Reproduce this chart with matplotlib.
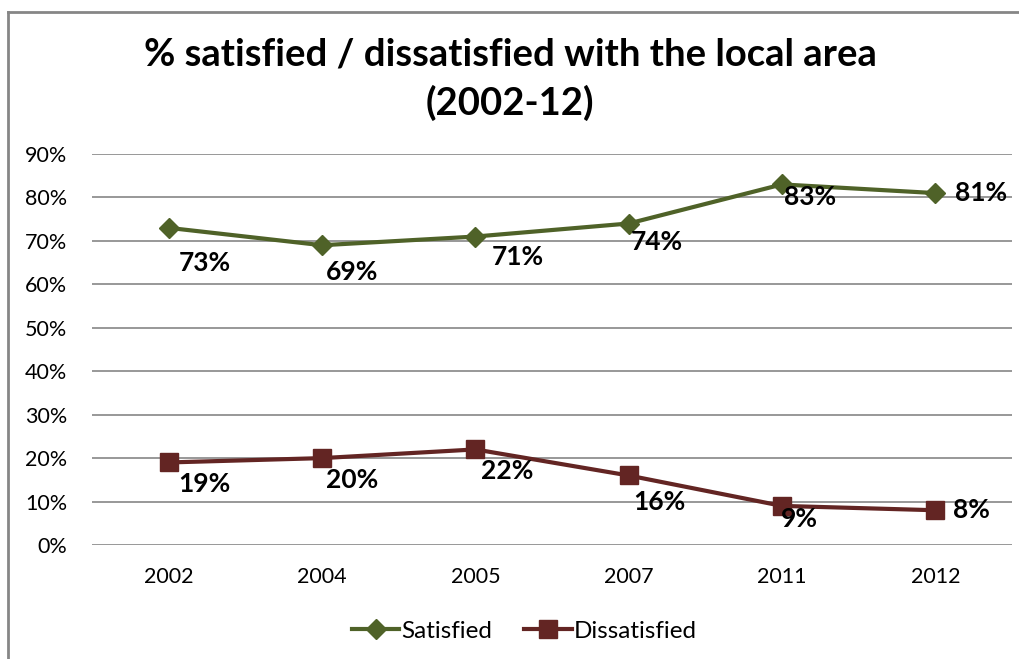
import matplotlib.pyplot as plt
from matplotlib.lines import Line2D

plt.rcParams['font.family'] = ['Lato', 'DejaVu Sans']

years = ["2002", "2004", "2005", "2007", "2011", "2012"]
satisfied = [73, 69, 71, 74, 83, 81]
dissatisfied = [19, 20, 22, 16, 9, 8]

# label offsets in pixels (dx, dy) relative to each point
sat_offsets = [(36, -35), (30, -27), (42, -20), (28, -18), (28, -13), (46, 0)]
dis_offsets = [(36, -22), (30, -22), (32, -22), (31, -27), (17, -13), (36, 0)]

green = "#4F6228"
red = "#632523"
grid_col = "#868686"

fig = plt.figure(figsize=(10.2, 6.59), dpi=100)
ax = fig.add_axes([92 / 1020, 1 - 545 / 659, 920 / 1020, 391 / 659])

x = list(range(len(years)))
ax.plot(x, satisfied, color=green, lw=3, marker="D", markersize=10,
        label="Satisfied", zorder=3)
ax.plot(x, dissatisfied, color=red, lw=3, marker="s", markersize=12.5,
        label="Dissatisfied", zorder=3)

for xi, v, off in zip(x, satisfied, sat_offsets):
    ax.annotate(f"{v}%", (xi, v), xytext=off, textcoords="offset pixels",
                ha="center", va="center", fontsize=19, fontweight="bold")
for xi, v, off in zip(x, dissatisfied, dis_offsets):
    ax.annotate(f"{v}%", (xi, v), xytext=off, textcoords="offset pixels",
                ha="center", va="center", fontsize=19, fontweight="bold")

ax.set_xlim(-0.5, len(years) - 0.5)
ax.set_ylim(0, 90)
ax.set_yticks(range(0, 91, 10))
ax.set_yticklabels([f"{t}%" for t in range(0, 91, 10)])
ax.set_xticks(x)
ax.set_xticklabels(years)
ax.tick_params(axis="both", labelsize=15.5, length=0, colors="black")
ax.tick_params(axis="y", pad=18)
ax.tick_params(axis="x", pad=16)
ax.yaxis.grid(True, color=grid_col, lw=1.2)
ax.set_axisbelow(True)
for s in ax.spines.values():
    s.set_visible(False)

fig.text(0.5, 1 - 79 / 659,
         "% satisfied / dissatisfied with the local area\n(2002-12)",
         ha="center", va="center", fontsize=27.5, fontweight="bold",
         linespacing=1.45)

ax.legend(loc="center", bbox_to_anchor=(0.47, -0.22), ncol=2, frameon=False,
          fontsize=17.5, handlelength=1.95, handletextpad=0.1,
          columnspacing=1.3)

# chart border (top and left visible)
fig.add_artist(Line2D([8 / 1020, 8 / 1020], [0, 1 - 12 / 659],
                      transform=fig.transFigure, color=grid_col, lw=2))
fig.add_artist(Line2D([8 / 1020, 1], [1 - 12 / 659, 1 - 12 / 659],
                      transform=fig.transFigure, color=grid_col, lw=2))

fig.savefig("out.png", dpi=100)
